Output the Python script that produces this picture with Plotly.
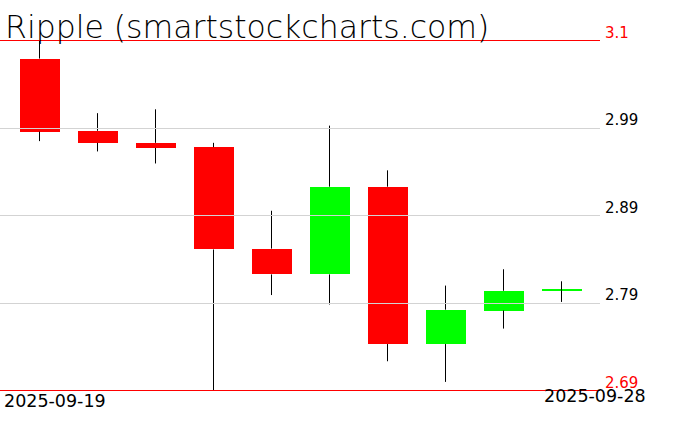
import math
import plotly.graph_objects as go

# ---- data ----
dates = ["2025-09-19", "2025-09-20", "2025-09-21", "2025-09-22", "2025-09-23",
         "2025-09-24", "2025-09-25", "2025-09-26", "2025-09-27", "2025-09-28"]
opens  = [3.075, 2.991, 2.977, 2.972, 2.854, 2.824, 2.926, 2.743, 2.782, 2.805]
highs  = [3.096, 3.0115, 3.016, 2.977, 2.898, 2.997, 2.945, 2.811, 2.830, 2.816]
lows   = [2.979, 2.967, 2.953, 2.689, 2.800, 2.789, 2.723, 2.699, 2.761, 2.792]
closes = [2.990, 2.977, 2.971, 2.853, 2.824, 2.926, 2.743, 2.783, 2.805, 2.805]
ytick_labels = ["3.1", "2.99", "2.89", "2.79", "2.69"]
title_text = "Ripple (smartstockcharts.com)"

W, H = 676, 431
TOP_PX, BOT_PX = 40.5, 390.5      # pixel rows of max / min lines
X0_PX, STEP_PX = 39.5, 58         # candle centre of first day, spacing
PLOT_RIGHT_PX = 600

n = len(dates)
idx = list(range(n))
vmax, vmin = max(highs), min(lows)
scale = (BOT_PX - TOP_PX) / (vmax - vmin)
y_range = [vmin - (H - BOT_PX) / scale, vmax + TOP_PX / scale]
x_range = [-X0_PX / STEP_PX, (W - X0_PX) / STEP_PX]
min_body = 1.2 / scale

def crisp(v):
    """snap a value to the centre of a pixel row so 1px lines stay sharp"""
    py = TOP_PX + (vmax - v) * scale
    py = math.floor(py) + 0.5
    return vmax - (py - TOP_PX) / scale

fig = go.Figure()

# wicks (split so the body covers nothing)
wx, wy = [], []
for i in idx:
    lo_b, hi_b = min(opens[i], closes[i]), max(opens[i], closes[i])
    wx += [i, i, None, i, i, None]
    wy += [lows[i], lo_b, None, hi_b, highs[i], None]
fig.add_trace(go.Scatter(x=wx, y=wy, mode="lines",
                         line=dict(color="black", width=1),
                         hoverinfo="skip", showlegend=False))

# bodies
bases = [min(o, c) for o, c in zip(opens, closes)]
heights = [max(abs(c - o), min_body) for o, c in zip(opens, closes)]
colors = ["#00ff00" if c >= o else "#ff0000" for o, c in zip(opens, closes)]
fig.add_trace(go.Bar(x=idx, y=heights, base=bases, width=40 / STEP_PX,
                     marker=dict(color=colors, line=dict(width=0)),
                     hoverinfo="skip", showlegend=False))

FONT = "DejaVu Sans"

# horizontal levels
levels = [vmax - k * (vmax - vmin) / 4 for k in range(5)]
shapes, annotations = [], []
for k, (lv, lab) in enumerate(zip(levels, ytick_labels)):
    edge = k in (0, 4)
    col = "#ff0000" if edge else "#d3d3d3"
    yv = crisp(lv)
    shapes.append(dict(type="line", xref="paper", yref="y",
                       x0=0, x1=PLOT_RIGHT_PX / W, y0=yv, y1=yv,
                       line=dict(color=col, width=1), layer="above"))
    annotations.append(dict(xref="paper", yref="y", x=(PLOT_RIGHT_PX + 3) / W, y=lv,
                            xanchor="left", yanchor="bottom", yshift=-3,
                            text=lab, showarrow=False,
                            font=dict(family=FONT, size=15,
                                      color="#ff0000" if edge else "black")))

# date labels
date_font = dict(family=FONT, size=17.5, color="black")
annotations.append(dict(xref="paper", yref="paper", x=2 / W, y=1 - 401 / H,
                        xanchor="left", yanchor="middle", text=dates[0],
                        showarrow=False, font=date_font))
annotations.append(dict(xref="paper", yref="paper", x=648 / W, y=1 - 395.5 / H,
                        xanchor="right", yanchor="middle", text=dates[-1],
                        showarrow=False, font=date_font))
# title
annotations.append(dict(xref="paper", yref="paper", x=3 / W, y=1 - 27 / H,
                        xanchor="left", yanchor="middle", text=title_text,
                        showarrow=False,
                        font=dict(family=FONT, size=31.5, weight=200, color="black")))

fig.update_layout(
    width=W, height=H, margin=dict(l=0, r=0, t=0, b=0),
    paper_bgcolor="white", plot_bgcolor="white",
    xaxis=dict(range=x_range, visible=False, fixedrange=True),
    yaxis=dict(range=y_range, visible=False, fixedrange=True),
    shapes=shapes, annotations=annotations, showlegend=False, bargap=0,
)
fig.write_html("out.html", config={"displayModeBar": False},
               post_script="document.body.style.margin='0';document.body.style.overflow='hidden';")
